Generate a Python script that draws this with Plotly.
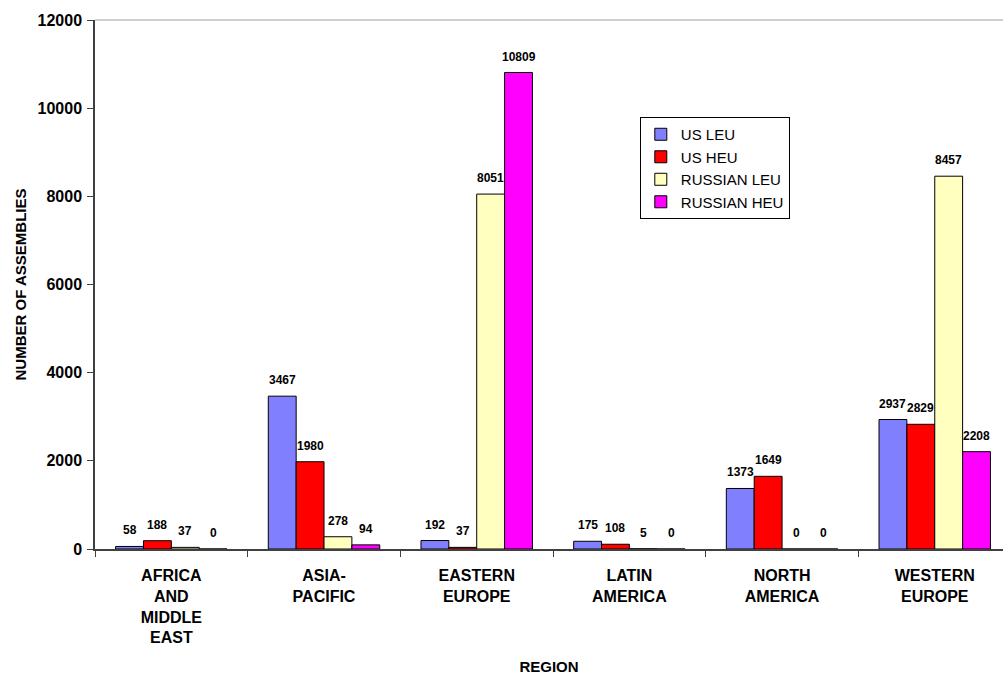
import plotly.graph_objects as go

categories = ["AFRICA<br>AND<br>MIDDLE<br>EAST", "ASIA-<br>PACIFIC", "EASTERN<br>EUROPE",
              "LATIN<br>AMERICA", "NORTH<br>AMERICA", "WESTERN<br>EUROPE"]
us_leu = [58, 3467, 192, 175, 1373, 2937]
us_heu = [188, 1980, 37, 108, 1649, 2829]
ru_leu = [37, 278, 8051, 5, 0, 8457]
ru_heu = [0, 94, 10809, 0, 0, 2208]
y_ticks = [0, 2000, 4000, 6000, 8000, 10000, 12000]

series = [("US LEU", us_leu, "#8080FF"), ("US HEU", us_heu, "#FF0000"),
          ("RUSSIAN LEU", ru_leu, "#FFFFC0"), ("RUSSIAN HEU", ru_heu, "#FF00FF")]

FONT = "Arial, Liberation Sans, sans-serif"
W, H = 1003, 675
ML, MR, MT, MB = 95, 0, 20, 126
BARGAP = 0.27
XRANGE = [-0.5, 5.447]

fig = go.Figure()
for name, vals, col in series:
    fig.add_trace(go.Bar(
        x=categories, y=vals, name=name,
        marker=dict(color=col, line=dict(color="#000000", width=1)),
    ))

# data labels as annotations, shifted to sit above each grouped bar
cat_px = (W - ML - MR) / (XRANGE[1] - XRANGE[0])
bar_px = cat_px * (1 - BARGAP) / len(series)
n = len(series)
for i, (name, vals, col) in enumerate(series):
    for c, v in zip(categories, vals):
        fig.add_annotation(x=c, y=v, xref="x", yref="y", text=str(v), showarrow=False,
                           xshift=(i - (n - 1) / 2) * bar_px, yshift=7, yanchor="bottom",
                           font=dict(family=FONT, size=12, color="#000000", weight="bold"))

fig.update_layout(
    width=W, height=H,
    margin=dict(l=ML, r=MR, t=MT, b=MB),
    paper_bgcolor="white", plot_bgcolor="white",
    barmode="group", bargap=BARGAP, bargroupgap=0,
    font=dict(family=FONT, color="#000000"),
    showlegend=True,
    legend=dict(x=0.6, y=0.8166, xanchor="left", yanchor="top",
                bordercolor="#000000", borderwidth=1, bgcolor="white",
                font=dict(family=FONT, size=15, color="#000000"),
                tracegroupgap=0, itemwidth=30),
    xaxis=dict(range=XRANGE, showline=True, linecolor="#404040", linewidth=1.5,
               ticks="outside", tickson="boundaries", ticklen=6, tickcolor="#404040",
               ticklabelstandoff=11,
               tickfont=dict(family=FONT, size=16, color="#000000", weight="bold"),
               title=dict(text="REGION", font=dict(family=FONT, size=15, weight="bold"), standoff=16),
               showgrid=False),
    yaxis=dict(range=[0, 12000], tickvals=y_ticks, ticktext=[str(t) for t in y_ticks],
               showline=True, linecolor="#404040", linewidth=1.5,
               ticks="outside", ticklen=6, tickcolor="#404040", ticklabelstandoff=2,
               tickfont=dict(family=FONT, size=16, color="#000000", weight="bold"),
               title=dict(text="NUMBER OF ASSEMBLIES", font=dict(family=FONT, size=15, weight="bold"), standoff=7),
               showgrid=False, zeroline=False),
)
fig.add_shape(type="line", xref="paper", yref="paper", x0=0, x1=1, y0=1, y1=1,
              line=dict(color="#A0A0A0", width=1))
fig.write_html("out.html")
